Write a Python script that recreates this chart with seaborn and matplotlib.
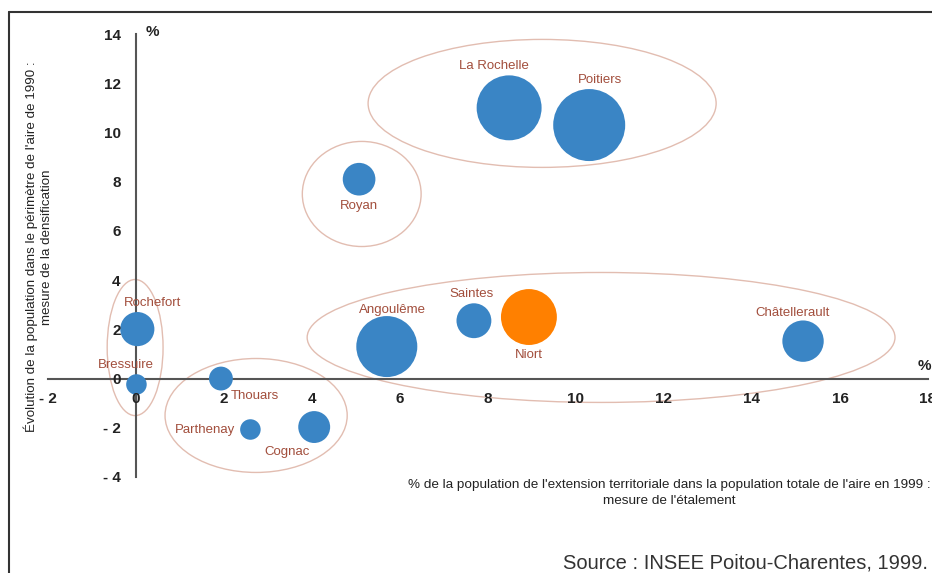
import matplotlib.pyplot as plt
import pandas as pd
import seaborn as sns
from matplotlib.lines import Line2D
from matplotlib.patches import Ellipse

# Aires urbaines de Poitou-Charentes, 1999
villes = ["La Rochelle", "Poitiers", "Royan", "Angoulême", "Saintes", "Niort",
          "Châtellerault", "Rochefort", "Bressuire", "Thouars", "Parthenay", "Cognac"]
etalement = [8.48, 10.3, 5.07, 5.7, 7.68, 8.93, 15.16, 0.03, 0.01, 1.93, 2.6, 4.05]
densification = [11.0, 10.3, 8.1, 1.3, 2.35, 2.5, 1.52, 2.01, -0.24, 0.0, -2.07, -1.97]
population = [170, 209, 43, 150, 49, 126, 69, 47, 17, 23, 17, 41]  # milliers (approx.)
xticks = [-2, 0, 2, 4, 6, 8, 10, 12, 14, 16, 18]
yticks = [-4, -2, 0, 2, 4, 6, 8, 10, 12, 14]

df = pd.DataFrame({"ville": villes, "x": etalement, "y": densification, "pop": population})
df["groupe"] = ["Niort" if v == "Niort" else "autre" for v in villes]

# label offsets in pixels (dx, dy up)
label_offsets = {
    "La Rochelle": (-15, 42), "Poitiers": (11, 45), "Royan": (0, -27),
    "Angoulême": (6, 37), "Saintes": (-2, 27), "Niort": (0, -38),
    "Châtellerault": (-10, 28), "Rochefort": (15, 26), "Bressuire": (-11, 19),
    "Thouars": (34, -17), "Parthenay": (-45, 0), "Cognac": (-27, -25),
}
# grouping ellipses: (cx, cy, width, height) in data units
ellipses = [(9.23, 11.18, 7.91, 5.2), (5.13, 7.5, 2.7, 4.27),
            (10.57, 1.67, 13.36, 5.28), (-0.02, 1.26, 1.27, 5.53),
            (2.73, -1.5, 4.14, 4.63)]

sns.set_style("white")
plt.rcParams["font.family"] = ["Liberation Sans", "DejaVu Sans"]

fig = plt.figure(figsize=(9.32, 5.73), dpi=100)
ax = fig.add_axes([48 / 932, 96 / 573, 880 / 932, 443 / 573])

for cx, cy, w, h in ellipses:
    ax.add_patch(Ellipse((cx, cy), w, h, fill=False, edgecolor="#E2BDB1", lw=1.0, zorder=1))

k = 12.86
sns.scatterplot(data=df, x="x", y="y", hue="groupe", size="pop",
                palette={"autre": "#3A85C5", "Niort": "#FF8000"},
                sizes=(k * min(population), k * max(population)),
                linewidth=0, alpha=1, legend=False, ax=ax, zorder=3)

for v, x, y in zip(villes, etalement, densification):
    dx, dy = label_offsets[v]
    ax.annotate(v, (x, y), xytext=(dx, dy), textcoords="offset pixels",
                ha="center", va="center", fontsize=9.5, color="#A24E3C", zorder=4)

ax.set_xlim(-2, 18)
ax.set_ylim(-4, 14)
ax.spines["left"].set_position(("data", 0))
ax.spines["bottom"].set_position(("data", 0))
ax.spines["top"].set_visible(False)
ax.spines["right"].set_visible(False)
for s in ("left", "bottom"):
    ax.spines[s].set_color("#555555")
    ax.spines[s].set_linewidth(1.5)
    ax.spines[s].set_zorder(2)

def fmt(v):
    return f"- {abs(v)}" if v < 0 else str(v)

ax.set_xticks(xticks)
ax.set_xticklabels([fmt(v) for v in xticks])
ax.set_yticks(yticks)
ax.set_yticklabels([fmt(v) for v in yticks])
ax.tick_params(direction="out", length=4, width=1, color="#555555",
               labelsize=11, labelcolor="#222222")
ax.tick_params(axis="x", pad=6)
ax.tick_params(axis="y", pad=7)
for t in ax.get_xticklabels() + ax.get_yticklabels():
    t.set_fontweight("bold")
ax.xaxis.set_zorder(3.5)
ax.yaxis.set_zorder(3.5)
ax.set_xlabel("")
ax.set_ylabel("")
ax.patch.set_alpha(0)

ax.annotate("%", (0, 14), xytext=(16, 2), textcoords="offset pixels",
            ha="center", va="center", fontsize=11, fontweight="bold", color="#222222")
ax.annotate("%", (18, 0), xytext=(-4, 13), textcoords="offset pixels",
            ha="center", va="center", fontsize=11, fontweight="bold", color="#222222")

fig.text(38 / 932, 1 - 247 / 573,
         "Évolution de la population dans le périmètre de l'aire de 1990 :\nmesure de la densification",
         rotation=90, ha="center", va="center", multialignment="center",
         fontsize=9.6, color="#222222", linespacing=1.3)
fig.text(669 / 932, 1 - 493 / 573,
         "% de la population de l'extension territoriale dans la population totale de l'aire en 1999 :\nmesure de l'étalement",
         ha="center", va="center", multialignment="center",
         fontsize=9.7, color="#222222", linespacing=1.45)
fig.text(928 / 932, 1 - 563 / 573, "Source : INSEE Poitou-Charentes, 1999.",
         ha="right", va="center", fontsize=14.5, color="#333333")

# cropped frame around the figure
fig.add_artist(Line2D([9 / 932, 9 / 932], [0, 1 - 12 / 573], color="#333333", lw=1.5))
fig.add_artist(Line2D([9 / 932, 1], [1 - 12 / 573, 1 - 12 / 573], color="#333333", lw=1.5))

fig.savefig("out.png", dpi=100)
